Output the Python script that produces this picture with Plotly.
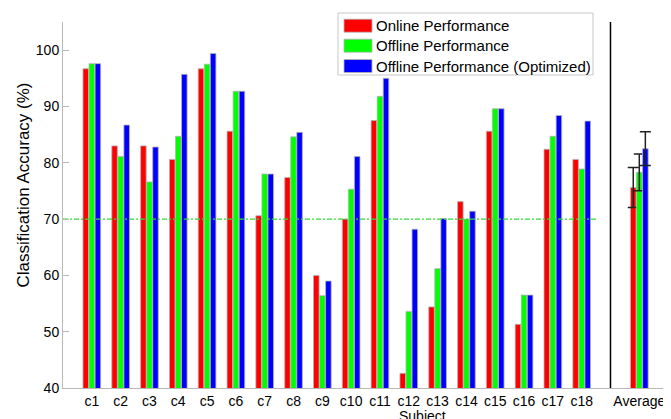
import plotly.graph_objects as go

# ---- data ----
subjects = ["c1", "c2", "c3", "c4", "c5", "c6", "c7", "c8", "c9", "c10",
            "c11", "c12", "c13", "c14", "c15", "c16", "c17", "c18", "Average"]
positions = [1, 2, 3, 4, 5, 6, 7, 8, 9, 10, 11, 12, 13, 14, 15, 16, 17, 18, 20]

online = [96.7, 83.0, 83.0, 80.6, 96.7, 85.6, 70.6, 77.4, 60.0, 70.0,
          87.5, 42.6, 54.4, 73.1, 85.6, 51.3, 82.4, 80.6, 75.6]
offline = [97.6, 81.1, 76.6, 84.7, 97.5, 92.7, 78.0, 84.6, 56.4, 75.3,
           91.8, 53.6, 61.2, 70.0, 89.6, 56.5, 84.7, 78.9, 78.3]
optimized = [97.6, 86.7, 82.8, 95.7, 99.4, 92.7, 78.0, 85.4, 59.0, 81.1,
             95.0, 68.2, 70.1, 71.4, 89.6, 56.5, 88.4, 87.4, 82.5]

# error bars shown on the Average group only
average_err = [3.55, 3.25, 3.0]

series_names = ["Online Performance", "Offline Performance",
                "Offline Performance (Optimized)"]
series_colors = ["#ff0000", "#00ff00", "#0000ff"]
threshold = 70
yticks = [40, 50, 60, 70, 80, 90, 100]

OFF = 8  # page body margin
W, H = 671 - OFF, 419 - OFF
L, R, T, B = 63 - OFF, 0, 22 - OFF, 31

fig = go.Figure()
for name, vals, err, col in zip(series_names, [online, offline, optimized],
                                 average_err, series_colors):
    fig.add_trace(go.Bar(
        x=positions[:-1], y=vals[:-1], name=name, offsetgroup=name,
        marker=dict(color=col, line=dict(color="#b4b4b4", width=0.8)),
        showlegend=False,
    ))
    fig.add_trace(go.Bar(
        x=positions[-1:], y=vals[-1:], name=name, offsetgroup=name,
        marker=dict(color=col, line=dict(color="#b4b4b4", width=0.8)),
        error_y=dict(type="data", array=[err], visible=True,
                     color="#222222", thickness=1.5, width=5.5),
        showlegend=False,
    ))

# threshold dash-dot line
fig.add_trace(go.Scatter(
    x=[0, 18.5], y=[threshold, threshold], mode="lines",
    line=dict(color="#33dd33", width=1.4, dash="5px,2px,2px,2px"),
    showlegend=False, hoverinfo="skip",
))

shapes = [
    dict(type="line", xref="x", yref="paper", x0=19, x1=19, y0=0, y1=1,
         line=dict(color="black", width=1.5)),
]

pw = W - L - R
ph = H - T - B
def px_x(p):
    return (p - OFF - L) / pw
def px_y(p):
    return (H - B - (p - OFF)) / ph

shapes.append(dict(type="rect", xref="paper", yref="paper",
                   x0=px_x(338), x1=px_x(593), y0=px_y(75), y1=px_y(13),
                   line=dict(color="#c8c8c8", width=1), fillcolor="white"))
annotations = []
row_centers = [25.7, 45.7, 66.0]
for name, col, yc in zip(series_names, series_colors, row_centers):
    shapes.append(dict(type="rect", xref="paper", yref="paper",
                       x0=px_x(344), x1=px_x(372),
                       y0=px_y(yc + 6.5), y1=px_y(yc - 6.5),
                       line=dict(color="#b4b4b4", width=0.8), fillcolor=col))
    annotations.append(dict(xref="paper", yref="paper", x=px_x(374), y=px_y(yc),
                            xanchor="left", yanchor="middle", showarrow=False,
                            text=name, font=dict(size=15, color="black")))

annotations.append(dict(xref="paper", yref="paper", x=px_x(422), y=px_y(416),
                        xanchor="center", yanchor="middle", showarrow=False,
                        text="Subject", font=dict(size=14, color="black")))
annotations.append(dict(xref="paper", yref="paper", x=px_x(23), y=px_y(185.5),
                        xanchor="center", yanchor="middle", showarrow=False,
                        textangle=-90,
                        text="Classification Accuracy (%)",
                        font=dict(size=17, color="black")))

fig.update_layout(
    width=W, height=H,
    margin=dict(l=L, r=R, t=T, b=B, pad=0),
    paper_bgcolor="white", plot_bgcolor="white",
    barmode="group", bargap=0.37, bargroupgap=0.08,
    font=dict(family="Liberation Sans, Arial, sans-serif", size=14, color="black"),
    shapes=shapes, annotations=annotations,
    xaxis=dict(range=[0, 21.1], tickvals=positions, ticktext=subjects,
               showgrid=False, zeroline=False, showline=True,
               linecolor="#b8b8b8", linewidth=1, ticks="",
               tickfont=dict(size=14, color="black")),
    yaxis=dict(range=[40, 105], tickvals=yticks, showgrid=False, zeroline=False,
               showline=True, linecolor="#b8b8b8", linewidth=1,
               ticks="inside", ticklen=6, tickcolor="#b8b8b8",
               tickfont=dict(size=14, color="black")),
)

fig.write_html("out.html")
